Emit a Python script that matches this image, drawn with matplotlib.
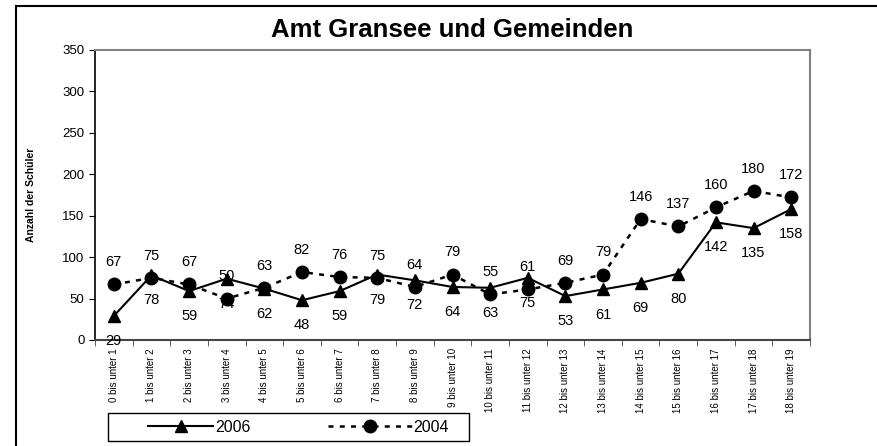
import matplotlib.pyplot as plt
import numpy as np
from matplotlib.lines import Line2D
from matplotlib.patches import Rectangle

plt.rcParams["font.family"] = ["Liberation Sans", "DejaVu Sans"]

kategorien = [f"{i} bis unter {i + 1}" for i in range(19)]
werte_2006 = [29, 78, 59, 74, 62, 48, 59, 79, 72, 64, 63, 75, 53, 61, 69, 80, 142, 135, 158]
werte_2004 = [67, 75, 67, 50, 63, 82, 76, 75, 64, 79, 55, 61, 69, 79, 146, 137, 160, 180, 172]

fig = plt.figure(figsize=(8.77, 4.46), dpi=100)
ax = fig.add_axes([95 / 877, 1 - 340 / 446, (810 - 95) / 877, (340 - 50) / 446])

x = np.arange(len(kategorien))

stil_2006 = dict(color="black", lw=1.5, marker="^", markersize=9)
stil_2004 = dict(color="black", lw=1.8, linestyle=(0, (2, 2.5)), marker="o", markersize=9)

ax.plot(x, werte_2006, label="2006", zorder=3, **stil_2006)
ax.plot(x, werte_2004, label="2004", zorder=3, **stil_2004)

# Datenbeschriftungen: 2004 oben, 2006 unten
for xi, v in zip(x, werte_2004):
    ax.annotate(str(v), (xi, v), xytext=(0, 11), textcoords="offset points",
                ha="center", va="bottom", fontsize=10.5)
for xi, v in zip(x, werte_2006):
    ax.annotate(str(v), (xi, v), xytext=(0, -13), textcoords="offset points",
                ha="center", va="top", fontsize=10.5)

ax.set_xlim(-0.5, len(kategorien) - 0.5)
ax.set_ylim(0, 350)
ax.set_yticks(range(0, 351, 50))
ax.tick_params(axis="y", labelsize=9.5, direction="out", length=4)

ax.set_xticks(x)
ax.set_xticklabels(kategorien, rotation=90, fontsize=7)
ax.set_xticks(np.arange(-0.5, len(kategorien), 1), minor=True)
ax.tick_params(axis="x", which="major", length=0, pad=6)
ax.tick_params(axis="x", which="minor", length=4, color="#444444")

for s in ["top", "right"]:
    ax.spines[s].set_color("#808080")
    ax.spines[s].set_linewidth(1.5)
ax.spines["bottom"].set_color("#444444")
ax.spines["bottom"].set_linewidth(1.5)
ax.spines["left"].set_linewidth(1.2)

fig.text(452 / 877, 1 - 30 / 446, "Amt Gransee und Gemeinden", ha="center", va="center",
         fontsize=18.5, fontweight="bold")
fig.text(31 / 877, 1 - 195 / 446, "Anzahl der Schüler", rotation=90, ha="center",
         va="center", fontsize=7.5, fontweight="bold")

# Legende: zwei Einträge in einem gemeinsamen Kasten
fig.legend([Line2D([], [], **stil_2006)], ["2006"], loc="center left",
           bbox_to_anchor=(148 / 877, 19 / 446), fontsize=11.5, frameon=False,
           handlelength=4.1, handletextpad=0.1, borderpad=0, borderaxespad=0)
fig.legend([Line2D([], [], **stil_2004)], ["2004"], loc="center left",
           bbox_to_anchor=(328 / 877, 19 / 446), fontsize=11.5, frameon=False,
           handlelength=5.3, handletextpad=0.05, borderpad=0, borderaxespad=0)
fig.add_artist(Rectangle((108 / 877, 5 / 446), 361 / 877, 28 / 446, transform=fig.transFigure,
                         fill=False, edgecolor="black", lw=1.0))

# Rahmen um die Grafik
fig.add_artist(Line2D([16 / 877, 16 / 877], [0, 1 - 6 / 446], color="black", lw=1.5,
                      transform=fig.transFigure))
fig.add_artist(Line2D([16 / 877, 1], [1 - 6 / 446, 1 - 6 / 446], color="black", lw=1.5,
                      transform=fig.transFigure))

fig.savefig("out.png", dpi=100)
